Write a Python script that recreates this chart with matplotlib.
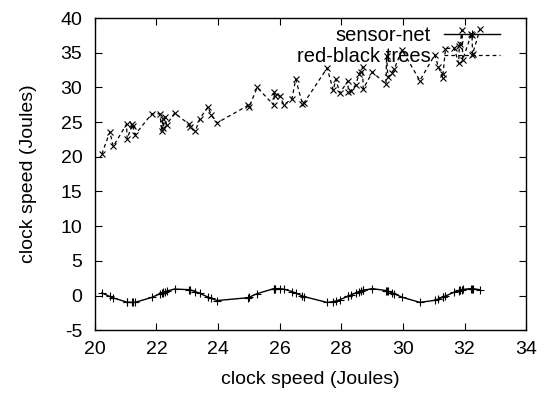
import matplotlib
matplotlib.use("Agg")
import matplotlib.pyplot as plt

plt.rcParams['font.family'] = ['Liberation Sans', 'DejaVu Sans']
plt.rcParams['axes.unicode_minus'] = False

# shared x positions (both series sampled at the same points)
xs = [20.23, 20.49, 20.60, 21.03, 21.05, 21.22, 21.24, 21.31, 21.85, 22.11,
      22.18, 22.20, 22.22, 22.28, 22.33, 22.59, 23.06, 23.10, 23.26, 23.41,
      23.67, 23.78, 23.97, 24.97, 25.01, 25.27, 25.80, 25.83, 25.85, 26.00,
      26.14, 26.40, 26.52, 26.74, 26.78, 27.54, 27.74, 27.82, 27.95, 28.21,
      28.23, 28.32, 28.47, 28.58, 28.63, 28.69, 28.71, 29.01, 29.45, 29.47,
      29.51, 29.64, 29.71, 29.97, 30.55, 31.03, 31.15, 31.29, 31.30, 31.38,
      31.66, 31.81, 31.83, 31.85, 31.92, 31.94, 32.22, 32.24, 32.26, 32.50]

sensor_net = [0.37, -0.14, -0.35, -0.94, -0.95, -1.0, -1.0, -0.98, -0.28, 0.24,
              0.37, 0.41, 0.44, 0.55, 0.63, 0.93, 0.84, 0.80, 0.57, 0.30,
              -0.22, -0.42, -0.73, -0.32, -0.24, 0.27, 0.97, 0.98, 0.99, 0.99,
              0.90, 0.57, 0.36, -0.07, -0.15, -1.0, -0.88, -0.79, -0.61, -0.13,
              -0.09, 0.09, 0.38, 0.57, 0.65, 0.74, 0.76, 0.99, 0.71, 0.68,
              0.62, 0.40, 0.27, -0.25, -0.99, -0.70, -0.51, -0.25, -0.23, -0.07,
              0.47, 0.71, 0.74, 0.76, 0.85, 0.87, 1.0, 1.0, 0.99, 0.83]

red_black = [20.4, 23.6, 21.5, 24.7, 22.6, 24.7, 24.4, 23.2, 26.2, 26.2,
             23.7, 25.4, 24.2, 25.7, 24.6, 26.3, 24.7, 24.3, 23.7, 25.5,
             27.2, 26.0, 24.9, 27.4, 27.2, 30.0, 27.5, 29.3, 28.8, 28.8,
             27.5, 28.4, 31.2, 27.6, 27.7, 32.8, 29.6, 31.2, 29.2, 30.9,
             29.4, 29.5, 30.4, 32.0, 32.3, 33.0, 29.8, 32.2, 30.5, 34.6,
             31.5, 32.1, 32.6, 35.4, 31.0, 34.7, 33.0, 31.4, 31.9, 35.6,
             35.7, 33.5, 36.0, 36.2, 38.3, 34.0, 37.7, 37.5, 34.8, 38.4]

fig = plt.figure(figsize=(5.51, 3.94), dpi=100)
ax = fig.add_axes([0.172, 0.162, 0.783, 0.792])

ax.plot(xs, sensor_net, color="black", lw=1.0, marker="+", ms=5.5, mew=0.8,
        label="sensor-net")
ax.plot(xs, red_black, color="black", lw=0.9, ls=(0, (3, 2.5)), marker="x",
        ms=4.2, mew=0.8, label="red-black trees")

ax.set_xlim(20, 34)
ax.set_ylim(-5, 40)
ax.set_xticks(range(20, 35, 2))
ax.set_yticks(range(-5, 41, 5))
ax.tick_params(direction="in", top=True, right=True, labelsize=14, length=5)
ax.tick_params(axis="y", pad=9)
ax.tick_params(axis="x", pad=8)
for s in ax.spines.values():
    s.set_linewidth(1.0)

ax.set_xlabel("clock speed (Joules)", fontsize=14, labelpad=9)
ax.set_ylabel("clock speed (Joules)", fontsize=14, labelpad=17)

ax.legend(loc="upper right", frameon=False, markerfirst=False, fontsize=14.5,
          handlelength=2.8, borderaxespad=0.0, labelspacing=0.08,
          handletextpad=0.65, bbox_to_anchor=(0.958, 1.0))

fig.savefig("out.png", dpi=100)
